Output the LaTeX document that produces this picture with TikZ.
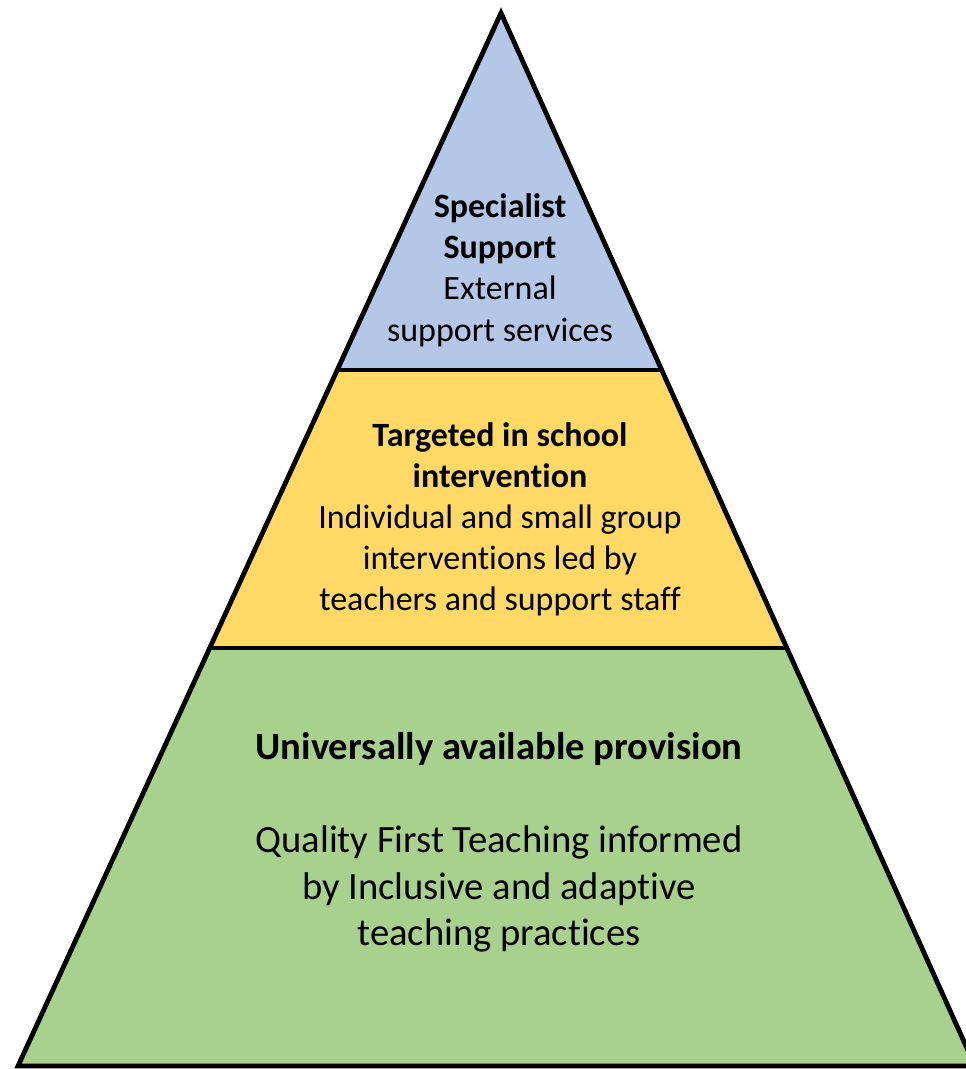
\documentclass[tikz,border=0pt]{standalone}
\usepackage{fontspec}
\setmainfont{Carlito}[Ligatures={NoCommon}]
\usetikzlibrary{calc}
\definecolor{tierblue}{HTML}{B4C7E7}
\definecolor{tieryellow}{HTML}{FFD966}
\definecolor{tiergreen}{HTML}{A9D18E}
\tikzset{
  edge/.style={line width=4.8pt, line join=miter},
  tiertext/.style={align=center, inner sep=0pt, text=black},
}
\begin{document}
\begin{tikzpicture}[x=1pt,y=-1pt]
\useasboundingbox (0,0) rectangle (966,1069);
\clip (0,0) rectangle (966,1069);
\coordinate (A) at (501,13);
\coordinate (BL) at (18,1066);
\coordinate (BR) at (975,1066);
\coordinate (L1) at ($(A)!0.339!(BL)$);
\coordinate (R1) at ($(A)!0.339!(BR)$);
\coordinate (L2) at ($(A)!0.603!(BL)$);
\coordinate (R2) at ($(A)!0.603!(BR)$);
\fill[tierblue] (A) -- (L1) -- (R1) -- cycle;
\fill[tieryellow] (L1) -- (L2) -- (R2) -- (R1) -- cycle;
\fill[tiergreen] (L2) -- (BL) -- (BR) -- (R2) -- cycle;
\draw[edge] (A) -- (BL) -- (BR) -- cycle;
\draw[edge] (L1) -- (R1);
\draw[edge] (L2) -- (R2);
\node[tiertext, font=\fontsize{34}{41.3}\selectfont] (top) at (500,270)
  {\textbf{Specialist}\\\textbf{Support}\\External\\support services};
\node[tiertext, font=\fontsize{34}{41}\selectfont] (mid) at (500,519.5)
  {\textbf{Targeted in school}\\\textbf{intervention}\\Individual and small group\\interventions led by\\teachers and support staff};
\node[tiertext, font=\fontsize{38.6}{46.5}\selectfont] (base) at (499,842.5)
  {\textbf{Universally available provision}\\[0pt]\mbox{}\\Quality First Teaching informed\\by Inclusive and adaptive\\teaching practices};
\end{tikzpicture}
\end{document}
